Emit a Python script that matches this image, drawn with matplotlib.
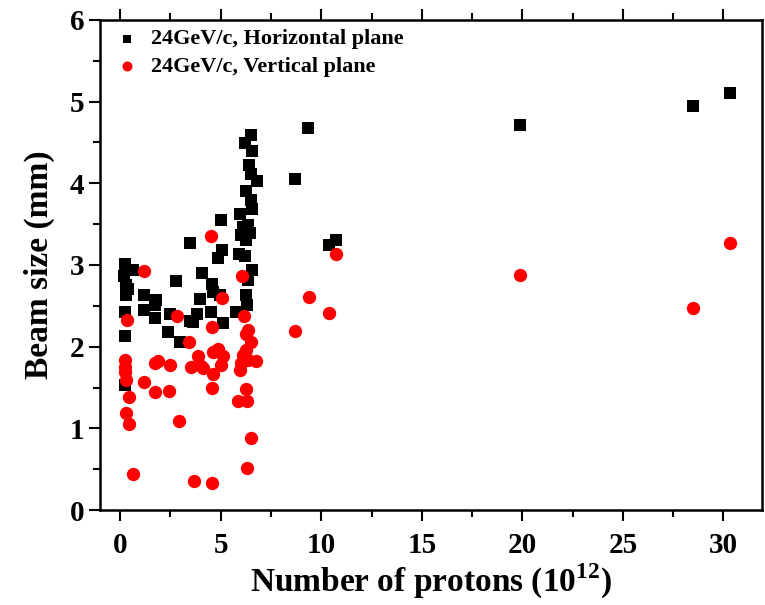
import numpy as np
import matplotlib
matplotlib.use('Agg')
import matplotlib.pyplot as plt
from matplotlib.ticker import MultipleLocator

plt.rcParams['font.family'] = ['Liberation Serif', 'DejaVu Serif']
plt.rcParams['font.weight'] = 'bold'
plt.rcParams['mathtext.fontset'] = 'custom'
plt.rcParams['mathtext.rm'] = 'Liberation Serif:bold'
plt.rcParams['mathtext.bf'] = 'Liberation Serif:bold'

# 24 GeV/c, horizontal plane: (protons 1e12, beam size mm)
h_protons = [0.22, 0.64, 0.17, 0.31, 0.39, 0.27, 1.17, 1.8, 1.72, 1.17, 1.72, 0.22, 0.22, 0.22,
             2.8, 2.46, 2.38, 2.96, 3.46, 4.07, 3.99, 3.82, 3.5, 3.62,
             6.49, 6.19, 6.58, 6.39, 6.49, 6.81, 6.28, 6.49, 6.58, 5.03, 5.95, 6.11, 6.36,
             6.03, 6.44, 6.28, 5.08, 4.87, 5.91, 6.19, 6.58, 6.36, 4.59, 4.62, 4.95, 6.28,
             6.33, 5.78, 4.54, 5.11,
             8.7, 9.36, 10.37, 10.72, 19.9, 28.5, 30.3]
h_size = [3.01, 2.94, 2.86, 2.75, 2.71, 2.63, 2.63, 2.57, 2.51, 2.45, 2.35, 2.43, 2.13, 1.53,
          2.8, 2.4, 2.18, 2.06, 3.27, 2.9, 2.58, 2.4, 2.31, 2.3,
          4.59, 4.49, 4.39, 4.22, 4.12, 4.03, 3.91, 3.79, 3.69, 3.55, 3.63, 3.47, 3.49,
          3.37, 3.39, 3.30, 3.18, 3.09, 3.14, 3.11, 2.94, 2.82, 2.77, 2.67, 2.63, 2.63,
          2.51, 2.43, 2.43, 2.29,
          4.05, 4.68, 3.24, 3.30, 4.72, 4.95, 5.11]

# 24 GeV/c, vertical plane
v_protons = [0.34, 1.17, 4.5, 2.83, 3.44, 0.22, 0.22, 0.22, 0.27, 0.44, 0.27, 0.44, 0.64,
             1.17, 1.72, 1.88, 1.72, 2.5, 2.41, 2.91, 3.66, 3.54, 3.87, 4.12, 4.59, 6.31,
             6.49, 4.57, 5.85, 6.32, 6.28, 4.6, 4.04, 4.62, 4.85, 5.1, 5.03, 5.95, 6.03,
             6.28, 6.53, 6.78, 6.36, 6.11, 6.28, 6.06, 5.08, 6.14, 4.59, 6.36,
             8.7, 9.38, 10.4, 10.72, 19.9, 28.5, 30.3]
v_size = [2.33, 2.93, 3.35, 2.37, 2.06, 1.84, 1.75, 1.69, 1.59, 1.38, 1.19, 1.05, 0.44,
          1.57, 1.80, 1.82, 1.45, 1.77, 1.46, 1.09, 0.35, 1.75, 1.88, 1.74, 0.33, 0.51,
          0.88, 1.50, 1.33, 1.33, 1.48, 1.67, 1.76, 1.94, 1.97, 1.89, 1.78, 1.71, 1.80,
          1.96, 2.06, 1.83, 1.84, 1.90, 2.16, 2.86, 2.59, 2.37, 2.24, 2.21,
          2.19, 2.61, 2.41, 3.14, 2.88, 2.47, 3.27]

fig = plt.figure(figsize=(7.65, 6.05), dpi=100)
ax = fig.add_axes([0.1307, 0.157, 0.865, 0.81])

ax.scatter(h_protons, h_size, marker='s', s=64, color='black', linewidths=0,
           label='24GeV/c, Horizontal plane', zorder=2)
ax.scatter(v_protons, v_size, marker='o', s=92, color='red', linewidths=0,
           label='24GeV/c, Vertical plane', zorder=3)

ax.set_xlim(-1, 31.9)
ax.set_ylim(0, 6)
ax.xaxis.set_major_locator(MultipleLocator(5))
ax.xaxis.set_minor_locator(MultipleLocator(2.5))
ax.yaxis.set_major_locator(MultipleLocator(1))
ax.yaxis.set_minor_locator(MultipleLocator(0.5))
ax.tick_params(which='major', direction='out', length=8, width=1.5, labelsize=21)
ax.tick_params(which='minor', direction='out', length=5, width=1.5)
ax.tick_params(axis='x', which='both', top=True)
ax.tick_params(axis='x', which='major', pad=8)
for sp in ax.spines.values():
    sp.set_linewidth(1.8)

ax.set_xlabel(r'Number of protons (10$^{12}$)', fontsize=24, fontweight='bold', labelpad=2)
ax.set_ylabel('Beam size (mm)', fontsize=24, fontweight='bold', labelpad=10)

ax.legend(loc='upper left', frameon=False, fontsize=16, handletextpad=0.3,
          handlelength=1.6, borderaxespad=0.05, borderpad=0.35, labelspacing=0.3,
          markerscale=0.75)

fig.savefig('out.png', dpi=100)
